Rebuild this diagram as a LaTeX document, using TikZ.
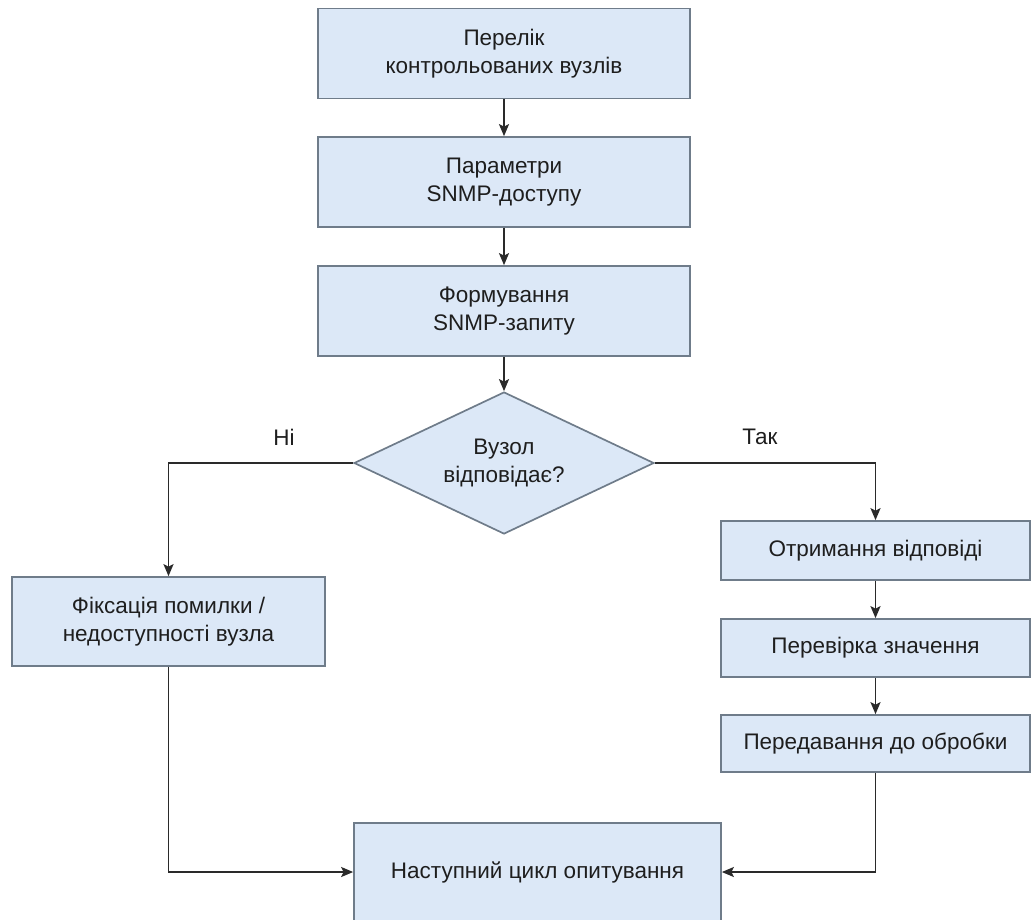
\documentclass[tikz,border=0pt]{standalone}
\usepackage{fontspec}
\setmainfont{Liberation Sans}
\usetikzlibrary{arrows.meta,shapes.geometric}
\definecolor{boxfill}{HTML}{DCE8F7}
\definecolor{boxline}{HTML}{6F7C8A}
\definecolor{ink}{HTML}{1E1E1E}
\definecolor{wire}{HTML}{2A2A2A}
\begin{document}
\begin{tikzpicture}[x=1pt,y=-1pt,
  every node/.style={font=\fontsize{22.5}{28.5}\selectfont, text=ink},
  stepbox/.style={draw=boxline, fill=boxfill, line width=1.7pt, rectangle,
    align=center, inner sep=0pt},
  decision/.style={draw=boxline, fill=boxfill, line width=1.7pt, diamond,
    aspect=2.11, inner sep=0pt, minimum width=300pt, minimum height=142pt,
    align=center},
  flow/.style={draw=wire, line width=1.9pt,
    -{Stealth[length=12pt,width=10pt,inset=2.5pt]}}
]
\useasboundingbox (0,0) rectangle (1032,919);

% main column
\node[stepbox, minimum width=372pt, minimum height=90pt] (list) at (504,53.5)
  {Перелік\\контрольованих вузлів};
\node[stepbox, minimum width=372pt, minimum height=90pt] (params) at (504,182)
  {Параметри\\SNMP-доступу};
\node[stepbox, minimum width=372pt, minimum height=90pt] (query) at (504,311)
  {Формування\\SNMP-запиту};
\node[decision] (decide) at (504,463) {Вузол\\відповідає?};

% "no" branch
\node[stepbox, minimum width=313pt, minimum height=89pt] (fail) at (168.5,621.5)
  {Фіксація помилки /\\недоступності вузла};

% "yes" branch
\node[stepbox, minimum width=309pt, minimum height=59pt] (recv) at (875.5,550.5)
  {Отримання відповіді};
\node[stepbox, minimum width=309pt, minimum height=58pt] (check) at (875.5,648)
  {Перевірка значення};
\node[stepbox, minimum width=309pt, minimum height=57pt] (send) at (875.5,743.5)
  {Передавання до обробки};

% loop back
\node[stepbox, minimum width=367pt, minimum height=98pt] (next) at (537.5,872)
  {Наступний цикл опитування};

% connectors
\draw[flow] (list) -- (params);
\draw[flow] (params) -- (query);
\draw[flow] (query) -- (decide);
\draw[flow] (decide.west) -| (fail.north);
\draw[flow] (decide.east) -| (recv.north);
\draw[flow] (recv) -- (check);
\draw[flow] (check) -- (send);
\draw[flow] (fail.south) |- (next.west);
\draw[flow] (send.south) |- (next.east);

% branch labels
\node (no) at (284,437) {Ні};
\node (yes) at (760,437) {Так};
\end{tikzpicture}
\end{document}
